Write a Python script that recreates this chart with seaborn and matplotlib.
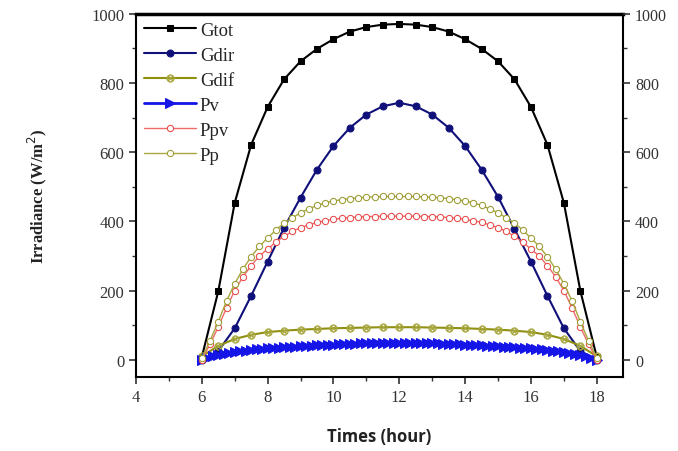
import matplotlib
matplotlib.use("Agg")
import matplotlib.pyplot as plt
import numpy as np
import pandas as pd
import seaborn as sns
from matplotlib.ticker import MultipleLocator

# half-hour samples, 6h..18h
hours_half = np.linspace(6, 18, 25)
gtot = [8, 198, 454, 622, 731, 811, 863, 899, 927, 949, 962, 969, 971,
        969, 962, 949, 927, 899, 863, 811, 731, 622, 454, 200, 8]
gdir = [0, 25, 91, 185, 284, 382, 469, 550, 618, 671, 709, 733, 743,
        733, 709, 671, 618, 550, 471, 378, 284, 185, 91, 25, 0]
gdif = [10, 40, 60, 72, 80, 84, 87, 89, 91, 92, 93, 94, 94,
        94, 93, 92, 91, 89, 87, 84, 80, 72, 60, 40, 10]

# quarter-hour samples
hours_quarter = np.linspace(6, 18, 49)
ppv = [0, 45, 95, 150, 200, 240, 272, 300, 320, 340, 357, 371, 382, 390, 397, 402,
       406, 409, 411, 413, 414, 414, 415, 415, 415,
       415, 415, 414, 414, 413, 411, 409, 406, 402, 397, 390, 382, 371, 357, 340,
       320, 300, 272, 240, 200, 150, 95, 45, 0]
pp = [5, 55, 110, 170, 220, 262, 298, 328, 352, 375, 395, 410, 425, 436, 446, 454,
      459, 463, 466, 468, 470, 471, 472, 472, 472,
      472, 472, 471, 470, 468, 466, 463, 459, 454, 446, 436, 425, 410, 395, 375,
      352, 328, 298, 262, 220, 170, 110, 55, 5]

# ten-minute samples
hours_10min = np.linspace(6, 18, 73)
pv = [0, 6, 10, 13, 16, 19, 22, 24, 26, 28, 30, 31, 33, 34, 35, 36, 37, 38, 39,
      40, 41, 42, 43, 43, 44, 45, 45, 46, 46, 47, 47, 47, 48, 48, 48, 48, 48,
      48, 48, 48, 48, 47, 47, 47, 46, 46, 45, 45, 44, 43, 43, 42, 41, 40, 39,
      38, 37, 36, 35, 34, 33, 31, 30, 28, 26, 24, 22, 19, 16, 13, 10, 6, 0]

sns.set_theme(style="white")
serif = ["Liberation Serif", "DejaVu Serif"]
plt.rcParams["font.family"] = serif

fig = plt.figure(figsize=(6.78, 4.52), dpi=100)
ax = fig.add_axes([0.2006, 0.1637, 0.7184, 0.8033])

series = [
    ("Gtot", hours_half, gtot, dict(color="black", marker="s", markersize=5,
                                    markerfacecolor="black", markeredgecolor="black", linewidth=1.5)),
    ("Gdir", hours_half, gdir, dict(color="#10107a", marker="o", markersize=5,
                                    markerfacecolor="#10107a", markeredgecolor="#10107a", linewidth=1.5)),
    ("Gdif", hours_half, gdif, dict(color="#8f8f10", marker="$\u2297$", markersize=5.5,
                                    markerfacecolor="#a8a840", markeredgecolor="#a8a840",
                                    markeredgewidth=0.4, linewidth=1.5)),
    ("Pv", hours_10min, pv, dict(color="#1515e8", marker=">", markersize=7,
                                 markerfacecolor="#1515e8", markeredgecolor="#1515e8", linewidth=2.0)),
    ("Ppv", hours_quarter, ppv, dict(color="#f06a6a", marker="o", markersize=4.5,
                                     markerfacecolor="white", markeredgecolor="#e84848", linewidth=1.0)),
    ("Pp", hours_quarter, pp, dict(color="#a8a840", marker="o", markersize=4.5,
                                   markerfacecolor="white", markeredgecolor="#9a9a30", linewidth=1.0)),
]

for name, xs, ys, style in series:
    df = pd.DataFrame({"hour": xs, "value": ys})
    sns.lineplot(data=df, x="hour", y="value", ax=ax, label=name, **style)

ax.set_xlim(4, 18.8)
ax.set_ylim(-50, 1000)
ax.xaxis.set_major_locator(MultipleLocator(2))
ax.xaxis.set_minor_locator(MultipleLocator(1))
ax.yaxis.set_major_locator(MultipleLocator(200))
ax.yaxis.set_minor_locator(MultipleLocator(100))
ax.tick_params(which="both", direction="out", bottom=True, left=True, top=False, right=False,
               labelsize=12, colors="#333333")
ax.tick_params(which="major", length=5, width=1.2)
ax.tick_params(which="minor", length=3, width=1.0)
for lab in ax.get_xticklabels() + ax.get_yticklabels():
    lab.set_fontfamily(serif)

ax.set_xlabel("Times (hour)", fontsize=12, fontweight="bold",
              family=["Open Sans", "DejaVu Sans"], labelpad=16, color="#222222")
ax.set_ylabel("Irradiance (W/m$^2$)", fontsize=12, fontweight="bold",
              family=serif, labelpad=30, color="#222222")

for sp in ax.spines.values():
    sp.set_color("black")
    sp.set_linewidth(1.5)
ax.spines["top"].set_linewidth(2.5)

ax2 = ax.twinx()
ax2.set_ylim(ax.get_ylim())
ax2.yaxis.set_major_locator(MultipleLocator(200))
ax2.yaxis.set_minor_locator(MultipleLocator(100))
ax2.tick_params(which="both", direction="out", right=True, labelsize=11.5, colors="#333333")
ax2.tick_params(which="major", length=5, width=1.2)
ax2.tick_params(which="minor", length=3, width=1.0)
ax2.grid(False)
for sp in ax2.spines.values():
    sp.set_visible(False)

leg = ax.legend(loc="upper left", bbox_to_anchor=(0.0, 1.0), frameon=False, handlelength=2.8,
                handletextpad=0.2, labelspacing=0.42, borderaxespad=0.0,
                prop={"family": serif, "size": 13.5})

fig.savefig("out.png", dpi=100)
